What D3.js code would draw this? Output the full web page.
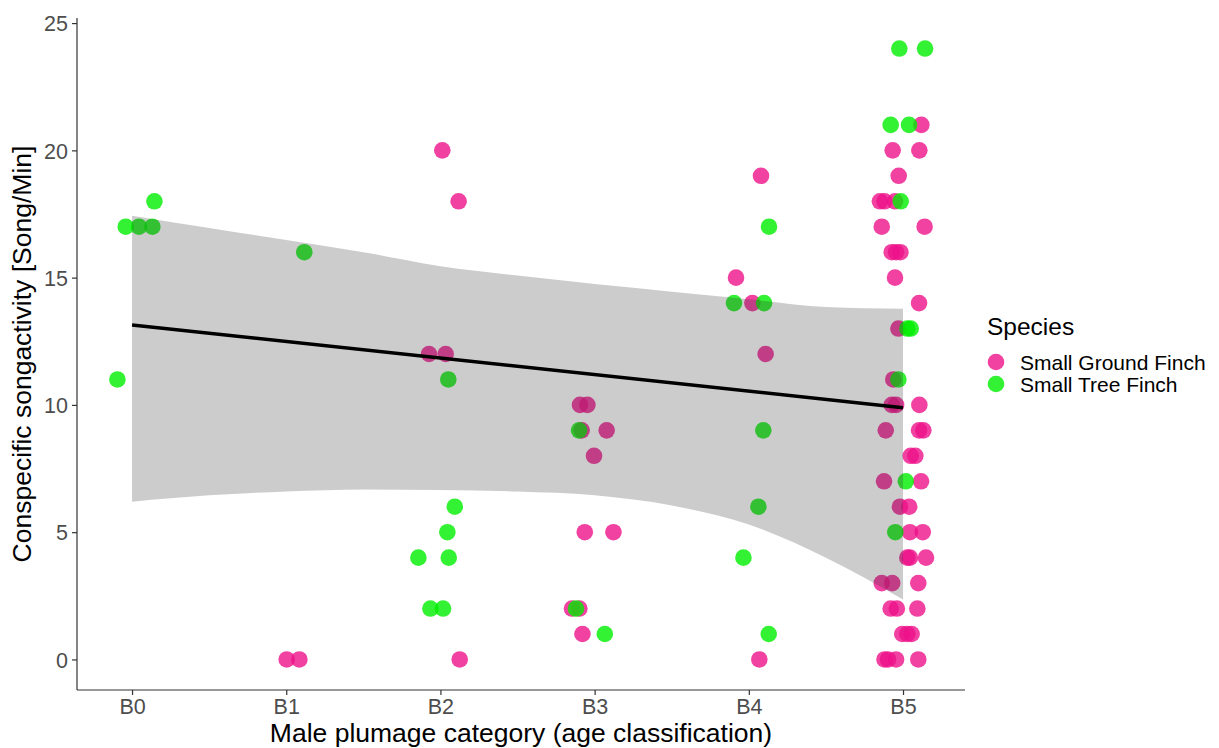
<!DOCTYPE html>
<html>
<head>
<meta charset="utf-8">
<script src="https://cdn.jsdelivr.net/npm/d3@7"></script>
<style>
  html, body { margin: 0; padding: 0; background: #ffffff; }
  svg { display: block; font-family: "Liberation Sans", Arial, sans-serif; }
</style>
</head>
<body>
<svg id="chart" width="1219" height="748"></svg>
<script>
// Plumage categories (B0..B5 map to 0..5 on the x axis)
const categories = ["B0", "B1", "B2", "B3", "B4", "B5"];
const yTicks = [0, 5, 10, 15, 20, 25];
const speciesNames = ["Small Ground Finch", "Small Tree Finch"];

// Small Ground Finch: jittered plumage position and song rate (songs/min)
const groundX = [
  1.003, 1.085,
  2.012, 2.118, 1.926, 2.034, 2.125,
  2.905, 2.953, 2.916, 3.078, 2.996, 2.936, 3.122, 2.853, 2.901, 2.921,
  4.079, 3.917, 4.023, 4.109, 4.068,
  5.119, 4.933, 5.106, 4.972, 4.850, 4.880, 4.948, 4.862, 5.140, 4.927,
  4.955, 4.983, 4.948, 5.104, 4.970, 4.937, 4.927, 4.955, 5.106, 4.888,
  5.104, 5.132, 5.050, 5.080, 4.877, 5.117, 4.980, 5.040, 5.045, 5.128,
  5.028, 5.045, 5.149, 4.862, 4.930, 5.099, 4.920, 4.960, 5.093, 4.995,
  5.028, 5.056, 4.880, 4.903, 4.955, 5.099
];
const groundY = [
  0, 0,
  20, 18, 12, 12, 0,
  10, 10, 9, 9, 8, 5, 5, 2, 2, 1,
  19, 15, 14, 12, 0,
  21, 20, 20, 19, 18, 18, 18, 17, 17, 16,
  16, 16, 15, 14, 13, 11, 10, 10, 10, 9,
  9, 9, 8, 8, 7, 7, 6, 6, 5, 5,
  4, 4, 4, 3, 3, 3, 2, 2, 2, 1,
  1, 1, 0, 0, 0, 0
];

// Small Tree Finch
const treeX = [
  0.145, -0.041, 0.045, 0.132, -0.095,
  1.117,
  2.051, 2.093, 2.045, 1.857, 2.054, 1.935, 2.017,
  2.899, 2.879, 3.066,
  4.131, 3.904, 4.099, 4.094, 4.062, 3.965, 4.129,
  4.976, 5.143, 4.920, 5.039, 4.985, 5.028, 5.050, 4.970, 5.018, 4.950
];
const treeY = [
  18, 17, 17, 17, 11,
  16,
  11, 6, 5, 4, 4, 2, 2,
  9, 2, 1,
  17, 14, 14, 9, 6, 4, 1,
  24, 24, 21, 21, 18, 13, 13, 11, 7, 5
];

// Fitted trend and its confidence band along the category axis
const fitX = [0, 5];
const fitY = [13.14, 9.89];
const bandX     = [0,     0.5,   1,     1.5,   2,     2.5,   3,     3.5,   4,     4.5,   5];
const bandUpper = [17.43, 16.95, 16.48, 16.00, 15.45, 15.08, 14.75, 14.45, 14.15, 13.85, 13.78];
const bandLower = [6.20,  6.45,  6.60,  6.68,  6.66,  6.60,  6.45,  6.05,  5.30,  4.00,  2.36];

const colors = { ground: "#EE1289", tree: "#00EE00" };

const svg = d3.select("#chart");
const panel = { left: 77, right: 965, top: 18, bottom: 690 };

const x = d3.scaleLinear().domain([-0.357, 5.402]).range([panel.left, panel.right]);
const y = d3.scaleLinear().domain([-1.2, 25.2]).range([panel.bottom, panel.top]);

// Points
const groundPts = groundX.map((v, i) => ({ x: v, y: groundY[i] }));
const treePts = treeX.map((v, i) => ({ x: v, y: treeY[i] }));
const pointR = 8.3;

svg.append("g").selectAll("circle").data(groundPts).join("circle")
  .attr("cx", d => x(d.x)).attr("cy", d => y(d.y)).attr("r", pointR)
  .attr("fill", colors.ground).attr("fill-opacity", 0.8);

svg.append("g").selectAll("circle").data(treePts).join("circle")
  .attr("cx", d => x(d.x)).attr("cy", d => y(d.y)).attr("r", pointR)
  .attr("fill", colors.tree).attr("fill-opacity", 0.8);

// Confidence band
const band = bandX.map((v, i) => ({ x: v, lo: bandLower[i], hi: bandUpper[i] }));
svg.append("path")
  .datum(band)
  .attr("d", d3.area().curve(d3.curveMonotoneX)
    .x(d => x(d.x)).y0(d => y(d.lo)).y1(d => y(d.hi)))
  .attr("fill", "#333333").attr("fill-opacity", 0.25);

// Trend line
svg.append("path")
  .datum(fitX.map((v, i) => ({ x: v, y: fitY[i] })))
  .attr("d", d3.line().x(d => x(d.x)).y(d => y(d.y)))
  .attr("fill", "none").attr("stroke", "#000").attr("stroke-width", 3.4);

// Axes
const axisColor = "#333333";
const tickColor = "#4D4D4D";

const yAxis = svg.append("g").attr("transform", `translate(${panel.left},0)`)
  .call(d3.axisLeft(y).tickValues(yTicks).tickSize(5).tickPadding(4));
const xAxis = svg.append("g").attr("transform", `translate(0,${panel.bottom})`)
  .call(d3.axisBottom(x).tickValues(d3.range(categories.length))
    .tickFormat(i => categories[i]).tickSize(5).tickPadding(4));

[yAxis, xAxis].forEach(g => {
  g.select(".domain").attr("stroke", axisColor).attr("stroke-width", 1.2);
  g.selectAll(".tick line").attr("stroke", axisColor).attr("stroke-width", 1.2);
  g.selectAll(".tick text").attr("fill", tickColor)
    .style("font-size", "21.5px").style("font-family", "'Liberation Sans', Arial, sans-serif");
});
yAxis.select(".domain").attr("d", `M0,${panel.top}V${panel.bottom}`);
xAxis.select(".domain").attr("d", `M${panel.left},0H${panel.right}`);
yAxis.selectAll(".tick text").attr("dy", "0.36em");
xAxis.selectAll(".tick text").attr("dy", "0.72em");

// Axis titles
svg.append("text")
  .attr("x", (panel.left + panel.right) / 2).attr("y", 742)
  .attr("text-anchor", "middle").attr("fill", "#000")
  .style("font-size", "26.5px")
  .text("Male plumage category (age classification)");

svg.append("text")
  .attr("transform", `translate(31,${(panel.top + panel.bottom) / 2}) rotate(-90)`)
  .attr("text-anchor", "middle").attr("fill", "#000")
  .style("font-size", "26.5px")
  .text("Conspecific songactivity [Song/Min]");

// Legend
const legend = svg.append("g").attr("transform", "translate(987,0)");
legend.append("text").attr("x", 0).attr("y", 335)
  .attr("fill", "#000").style("font-size", "24.5px").text("Species");
const legendColors = [colors.ground, colors.tree];
speciesNames.forEach((name, i) => {
  const cy = 362 + i * 22;
  legend.append("circle").attr("cx", 9).attr("cy", cy).attr("r", 8.3)
    .attr("fill", legendColors[i]).attr("fill-opacity", 0.8);
  legend.append("text").attr("x", 33).attr("y", cy + 7.5)
    .attr("fill", "#000").style("font-size", "21px").text(name);
});
</script>
</body>
</html>
